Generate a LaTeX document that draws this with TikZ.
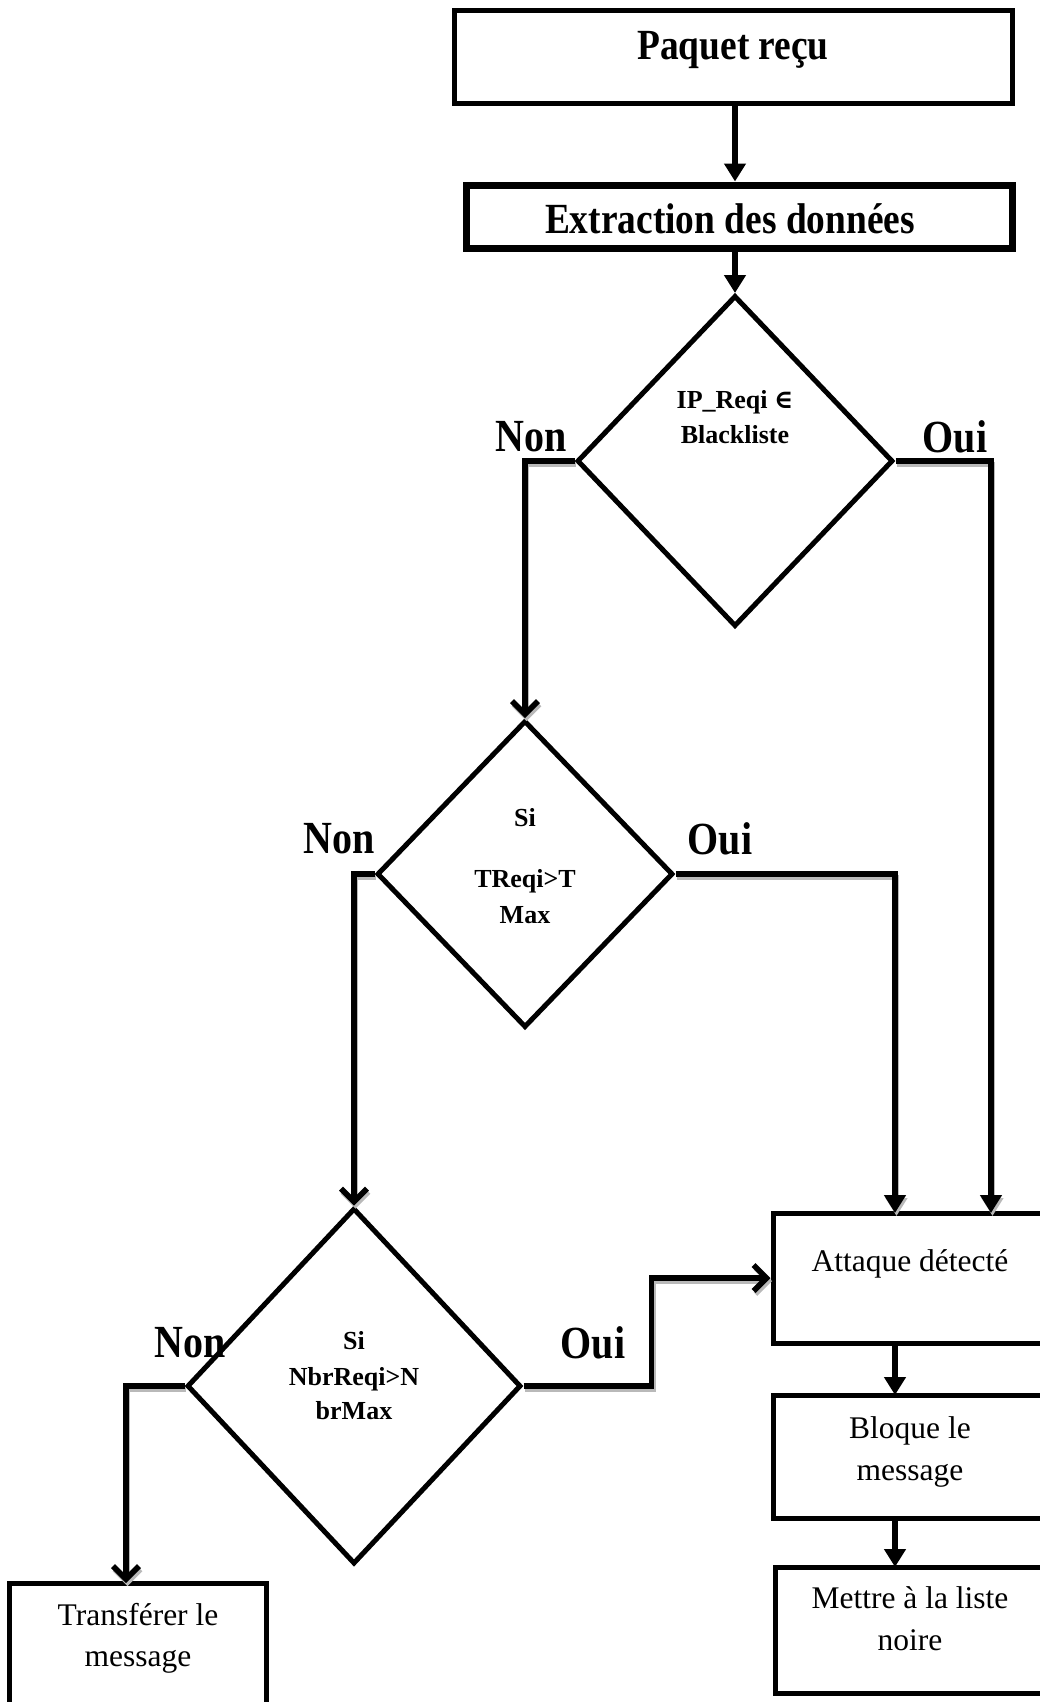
\documentclass[tikz,border=0pt]{standalone}
\usepackage{fontspec}
\setmainfont{Liberation Serif}
\newfontfamily\headfont[FakeStretch=0.87]{Liberation Serif}
\newfontfamily\symfont{DejaVu Serif}
\usetikzlibrary{shapes.geometric,arrows.meta}

\begin{document}
\begin{tikzpicture}[x=1pt,y=-1pt,
  box/.style={draw, line width=5pt, inner sep=0pt},
  decision/.style={diamond, draw, line width=5pt, inner sep=0pt},
  headtxt/.style={font=\headfont\bfseries\fontsize{43}{50}\selectfont, inner sep=0pt},
  answer/.style={font=\headfont\bfseries\fontsize{46}{52}\selectfont, inner sep=0pt},
  condtxt/.style={font=\bfseries\fontsize{26}{30}\selectfont, inner sep=0pt, text height=18pt, text depth=6pt},
  plaintxt/.style={font=\fontsize{31.5}{36}\selectfont, inner sep=0pt, text height=22pt, text depth=7pt},
  conn/.style={line width=5.5pt},
  solidtip/.style={-{Triangle[width=21pt,length=18pt]}},
  opentip/.style={-{Straight Barb[width=26pt,length=13pt]}},
  shade/.style={preaction={draw=gray!55, line width=5pt, transform canvas={xshift=1.5pt,yshift=-3pt}}}
]
\useasboundingbox (0,0) rectangle (1040,1702);

% process boxes
\node[box, minimum width=558pt, minimum height=92pt] (paquet) at (733,57) {};
\node[box, line width=7pt, minimum width=546pt, minimum height=63pt] (extr) at (739,216.5) {};
\node[box, minimum width=274pt, minimum height=130pt] (att) at (910,1278) {};
\node[box, minimum width=274pt, minimum height=123pt] (blo) at (910,1456.5) {};
\node[box, minimum width=272pt, minimum height=126pt] (met) at (911,1630) {};
\node[box, minimum width=257pt, minimum height=129pt] (tra) at (137.5,1647.5) {};

% decisions
\node[decision, minimum width=316pt, minimum height=331pt] (d1) at (735,461) {};
\node[decision, minimum width=296pt, minimum height=307pt] (d2) at (525,874) {};
\node[decision, minimum width=334pt, minimum height=356pt] (d3) at (354,1386) {};

% box texts
\node[headtxt] (tpaquet) at (733,50) {Paquet reçu};
\node[headtxt] (textr) at (730,219) {Extraction des données};
\node[plaintxt] (tatt) at (910,1264) {Attaque détecté};
\node[plaintxt] (tblo1) at (910,1431) {Bloque le};
\node[plaintxt] (tblo2) at (910,1473) {message};
\node[plaintxt] (tmet1) at (910,1601) {Mettre à la liste};
\node[plaintxt] (tmet2) at (910,1643) {noire};
\node[plaintxt] (ttra1) at (138,1618) {Transférer le};
\node[plaintxt] (ttra2) at (138,1659) {message};

% decision texts
\node[condtxt] (c1a) at (735,402) {IP\_Reqi {\symfont\bfseries ∈}};
\node[condtxt] (c1b) at (735,437) {Blackliste};
\node[condtxt] (c2a) at (525,820) {Si};
\node[condtxt] (c2b) at (525,881) {TReqi>T};
\node[condtxt] (c2c) at (525,917) {Max};
\node[condtxt] (c3a) at (354,1343) {Si};
\node[condtxt] (c3b) at (354,1379) {NbrReqi>N};
\node[condtxt] (c3c) at (354,1413) {brMax};

% answer labels
\node[answer] (n1) at (531,437) {Non};
\node[answer] (o1) at (955,437) {Oui};
\node[answer] (n2) at (339,839) {Non};
\node[answer] (o2) at (720,839) {Oui};
\node[answer] (n3) at (190,1343) {Non};
\node[answer] (o3) at (593,1343) {Oui};

% entry and exit points on box edges
\coordinate (inA) at (991,1213);
\coordinate (inB) at (895,1213);
\coordinate (outA) at (895,1343);
\coordinate (inBlo) at (895,1395);
\coordinate (outBlo) at (895,1518);
\coordinate (inMet) at (895,1567);
\coordinate (inTra) at (126,1583);

% connectors
\draw[conn, solidtip] (paquet.south -| d1.north) -- (extr.north -| d1.north);
\draw[conn, solidtip] (extr.south -| d1.north) -- (d1.north);
\draw[conn, opentip, shade] (d1.west) -| (d2.north);
\draw[conn, solidtip, shade] (d1.east) -| (inA);
\draw[conn, opentip, shade] (d2.west) -| (d3.north);
\draw[conn, solidtip, shade] (d2.east) -| (inB);
\draw[conn, opentip, shade] (d3.west) -| (inTra);
\draw[conn, opentip, shade] (d3.east) -- ++(128,0) |- (att.west);
\draw[conn, solidtip] (outA) -- (inBlo);
\draw[conn, solidtip] (outBlo) -- (inMet);
\end{tikzpicture}
\end{document}
